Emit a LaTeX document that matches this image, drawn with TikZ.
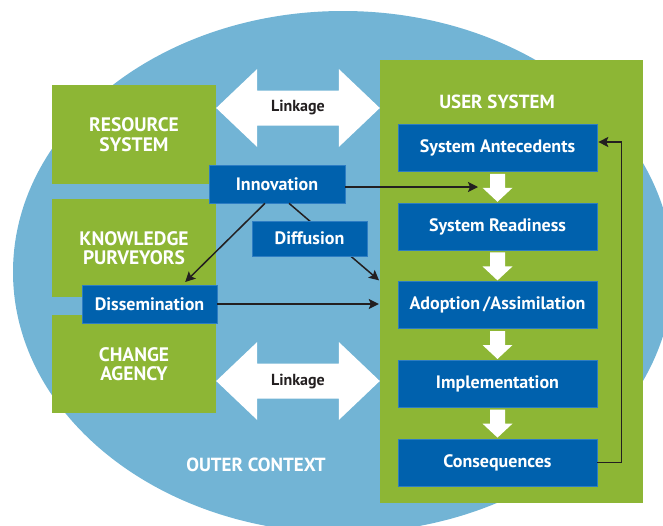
\documentclass[tikz,border=0pt]{standalone}
\usepackage{fontspec}
\setmainfont{PT Sans}
\usepackage{tikz}
\usetikzlibrary{
        arrows.meta,
        calc,
        positioning
    }
\definecolor{ctxblue}{RGB}{114,180,213}
\definecolor{sysgreen}{RGB}{141,182,53}
\definecolor{boxblue}{RGB}{0,97,173}
\definecolor{boxedge}{RGB}{45,125,195}
\definecolor{ink}{RGB}{35,31,32}
\tikzset{>={Stealth[length=10pt,width=10pt,inset=2pt]},node distance=31pt}
\tikzset{
    grnbox/.style={fill=sysgreen,text=white,align=center,inner sep=0pt,
        font=\fontsize{19.5}{19.5}\selectfont\bfseries,minimum width=164pt,minimum height=98pt},
    bluebox/.style={fill=boxblue,draw=boxedge,line width=0.6pt,text=white,inner sep=0pt,
        font=\fontsize{18}{19}\selectfont\bfseries},
    stagebox/.style={bluebox,minimum width=199pt,minimum height=47pt},
    ttl/.style={text=white,font=\fontsize{19}{20}\selectfont\bfseries},
    lnklbl/.style={text=ink,font=\fontsize{16}{17}\selectfont\bfseries},
    conn/.style={draw=ink,line width=1.5pt,shorten >=1pt},
    blkdown/.style={fill=white,to path={let \p1=(\tikztostart),\p2=(\tikztotarget) in
        (\x1-7.5pt,\y1-2pt) -- (\x1+7.5pt,\y1-2pt) -- (\x1+7.5pt,\y1-16pt) -- (\x1+15pt,\y1-16pt)
        -- (\x1,\y2+1pt) -- (\x1-15pt,\y1-16pt) -- (\x1-7.5pt,\y1-16pt) -- cycle}},
    blkdbl/.style={fill=white,to path={let \p1=(\tikztostart),\p2=(\tikztotarget) in
        (\x1,\y1) -- (\x1+41pt,\y1+39pt) -- (\x1+41pt,\y1+17.5pt) -- (\x2-41pt,\y1+17.5pt)
        -- (\x2-41pt,\y1+39pt) -- (\x2,\y1) -- (\x2-41pt,\y1-39pt) -- (\x2-41pt,\y1-17.5pt)
        -- (\x1+41pt,\y1-17.5pt) -- (\x1+41pt,\y1-39pt) -- cycle}}
}

\begin{document}
\begin{tikzpicture}[x=1pt,y=-1pt]
                \clip (0,0) rectangle (663,525);
                % outer context
                \fill[ctxblue] (343,272) ellipse [x radius=330,y radius=261];
                \node[ttl] (outer) at (256,465) {OUTER CONTEXT};

                % green systems
                \node[grnbox,minimum height=99pt] (res) at (134,134.5) {RESOURCE\\SYSTEM};
                \node[grnbox] (know) at (134,248) {KNOWLEDGE\\PURVEYORS};
                \node[grnbox] (chg) at (134,364) {CHANGE\\AGENCY};
                \node[fill=sysgreen,minimum width=263pt,minimum height=443pt] (user) at (511.5,281.5) {};
                \node[ttl] (usert) at (497,102) {USER SYSTEM};

                % linkage
                \coordinate (l1) at (298,108);
                \coordinate (l2) at (298,381);
                \path[blkdbl] (res.east |- l1) to (user.west |- l1);
                \path[blkdbl] (chg.east |- l2) to (user.west |- l2);
                \node[lnklbl] (lnk1) at (l1) {Linkage};
                \node[lnklbl] (lnk2) at (l2) {Linkage};

                % stages
                \node[stagebox] (ante) at (497.5,148) {System Antecedents};
                \node[stagebox] (ready) [below=of ante] {System Readiness};
                \node[stagebox] (adopt) [below=of ready] {Adoption\,/Assimilation};
                \node[stagebox] (impl) [below=of adopt] {Implementation};
                \node[stagebox] (cons) [below=of impl] {Consequences};
                \path[blkdown]
                        (ante.south) to (ready.north)
                        (ready.south) to (adopt.north)
                        (adopt.south) to (impl.north)
                        (impl.south) to (cons.north)
                ;
                \draw[conn,->] (cons.east) -- ++(24,0) |- ([yshift=6pt]ante.east);

                % flows
                \node[bluebox,minimum width=136pt,minimum height=38pt] (innov) at (277,184) {Innovation};
                \node[bluebox,minimum width=135pt,minimum height=38pt] (diss) at (149.5,304) {Dissemination};
                \coordinate (rdyin) at (479,187);
                \coordinate (usrin) at (user.west |- 0,281);
                \path[->]
                        (innov.east |- rdyin) edge[conn] (rdyin)
                        ([xshift=-12pt]innov.south) edge[conn] ([xshift=35pt,yshift=2pt]diss.north)
                        ([xshift=12pt]innov.south) edge[conn] (usrin)
                        (diss.east) edge[conn] (user.west |- diss)
                ;
                \node[bluebox,minimum width=115pt,minimum height=35pt] (diff) at (309.5,238.5) {Diffusion};
            \end{tikzpicture}
\end{document}
